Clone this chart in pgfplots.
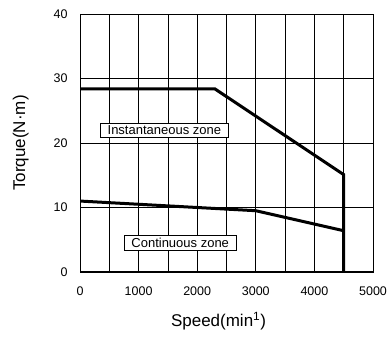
\documentclass[border=0pt]{standalone}
\usepackage{fontspec}
\setmainfont{Liberation Sans}
\usepackage{pgfplots}
\pgfplotsset{compat=1.18}
\begin{document}
\begin{tikzpicture}
\useasboundingbox (0,0) rectangle (388pt,342pt);
\begin{axis}[
  at={(80pt,70pt)}, anchor=south west,
  scale only axis, width=293pt, height=258pt,
  xmin=0, xmax=5000, ymin=0, ymax=40,
  xtick={0,1000,...,5000}, minor xtick={500,1500,...,4500},
  ytick={0,10,...,40},
  grid=both,
  major grid style={black, line width=0.7pt},
  minor grid style={black, line width=0.7pt},
  axis line style={black, line width=0.8pt},
  major tick length=0pt, minor tick length=0pt,
  /pgf/number format/assume math mode=true,
  /pgf/number format/1000 sep={},
  tick label style={font=\fontsize{12.5}{14}\selectfont},
  xticklabel style={yshift=-11pt},
  yticklabel style={xshift=-9pt},
  xlabel={Speed(min\textsuperscript{1})},
  ylabel={Torque(N·m)},
  label style={font=\fontsize{17}{20}\selectfont},
  xlabel style={yshift=-10pt, xshift=-8pt},
  ylabel style={yshift=18pt},
]
\draw[line width=1.6pt] (rel axis cs:0,1) -- (rel axis cs:0,0) -- (rel axis cs:1,0);
\addplot[black, line width=3pt] coordinates {(0,28.4) (2300,28.4) (4500,15.1) (4500,0)};
\addplot[black, line width=3pt] coordinates {(0,11) (3000,9.5) (4500,6.4)};
\node[draw=black, fill=white, line width=0.8pt, inner xsep=7pt, inner ysep=2.5pt, font=\fontsize{13}{15}\selectfont] at (axis cs:1440,22.0) {Instantaneous zone};
\node[draw=black, fill=white, line width=0.8pt, inner xsep=7pt, inner ysep=2.5pt, font=\fontsize{13}{15}\selectfont] at (axis cs:1710,4.5) {Continuous zone};
\end{axis}
\end{tikzpicture}
\end{document}
